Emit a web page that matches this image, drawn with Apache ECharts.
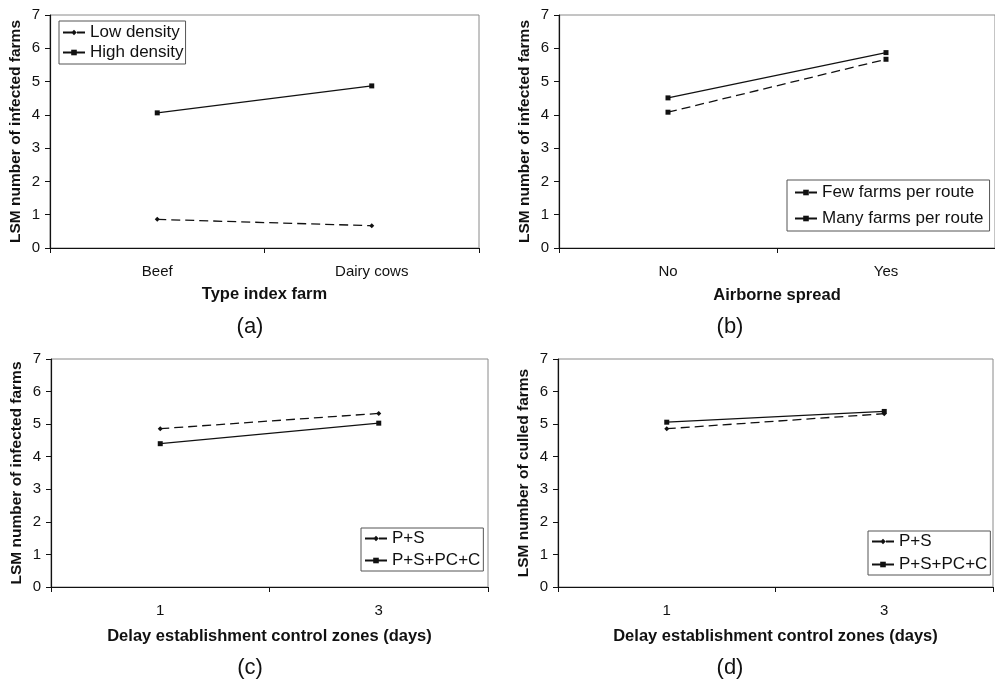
<!DOCTYPE html>
<html>
<head>
<meta charset="utf-8">
<script src="https://cdn.jsdelivr.net/npm/echarts@6/dist/echarts.min.js"></script>
<style>
  html, body { margin: 0; padding: 0; background: #fff; }
  #chart { width: 995px; height: 682px; }
</style>
</head>
<body>
<div id="chart"></div>
<script>
(function () {

  // panel (a)
  var typeCats = ['Beef', 'Dairy cows'];
  var lowDensity = [0.86, 0.67];
  var highDensity = [4.06, 4.87];

  // panel (b)
  var airborneCats = ['No', 'Yes'];
  var fewFarms = [4.08, 5.67];
  var manyFarms = [4.51, 5.87];

  // panels (c) and (d)
  var delayCats = ['1', '3'];
  var infectedPS = [4.86, 5.33];
  var infectedPSPCC = [4.40, 5.03];
  var culledPS = [4.86, 5.32];
  var culledPSPCC = [5.06, 5.39];

  var yMin = 0, yMax = 7, yStep = 1;

  var FONT = 'Arial, "Liberation Sans", sans-serif';
  var INK = '#111';

  var grids = [
    { left: 50, top: 15, width: 429, height: 233 },
    { left: 559, top: 15, width: 438, height: 233 },
    { left: 51, top: 359, width: 437, height: 228 },
    { left: 558, top: 359, width: 435, height: 228 }
  ];
  var xNameGaps = [38, 39, 41, 41];

  var xNames = ['Type index farm', 'Airborne spread',
    'Delay establishment control zones (days)', 'Delay establishment control zones (days)'];
  var yNames = ['LSM number of infected farms', 'LSM number of infected farms',
    'LSM number of infected farms', 'LSM number of culled farms'];
  var xCats = [typeCats, airborneCats, delayCats, delayCats];

  function _extend(a, b) {
    var o = {};
    Object.keys(a).forEach(function (k) { o[k] = a[k]; });
    Object.keys(b).forEach(function (k) { o[k] = b[k]; });
    return o;
  }

  function _grid(g) {
    return _extend(g, {
      show: true,
      borderColor: '#8a8a8a',
      borderWidth: 1,
      backgroundColor: 'transparent'
    });
  }

  function _xAxis(i) {
    return {
      type: 'category',
      gridIndex: i,
      data: xCats[i],
      boundaryGap: true,
      name: xNames[i],
      nameLocation: 'middle',
      nameGap: xNameGaps[i],
      nameTextStyle: { fontFamily: FONT, fontWeight: 'bold', fontSize: 16.5, color: INK },
      axisLine: { lineStyle: { color: INK, width: 1.2 } },
      axisTick: { show: true, length: 5, inside: false, lineStyle: { color: INK } },
      axisLabel: { margin: 16, fontFamily: FONT, fontSize: 15, color: INK },
      splitLine: { show: false }
    };
  }

  function _yAxis(i) {
    return {
      type: 'value',
      gridIndex: i,
      min: yMin,
      max: yMax,
      interval: yStep,
      name: yNames[i],
      nameLocation: 'middle',
      nameGap: 26,
      nameTextStyle: { fontFamily: FONT, fontWeight: 'bold', fontSize: 15.5, color: INK },
      axisLine: { show: true, lineStyle: { color: INK, width: 1.2 } },
      axisTick: { show: true, length: 5, lineStyle: { color: INK } },
      axisLabel: { margin: 10, fontFamily: FONT, fontSize: 15, color: INK },
      splitLine: { show: false }
    };
  }

  function _line(name, data, idx, dashed, symbol) {
    return {
      name: name,
      type: 'line',
      xAxisIndex: idx,
      yAxisIndex: idx,
      data: data,
      symbol: symbol,
      symbolSize: 5,
      showSymbol: true,
      itemStyle: { color: INK },
      lineStyle: { color: INK, width: 1.3, type: dashed ? [9, 5] : 'solid' },
      emphasis: { disabled: true },
      animation: false
    };
  }

  // panel (d) series names carry a trailing space so its legend stays separate from (c)
  function _legend(names, left, top, gap, pad) {
    return {
      data: names,
      orient: 'vertical',
      left: left,
      top: top,
      itemGap: gap,
      itemWidth: 22,
      itemHeight: 7,
      padding: pad,
      borderColor: '#555',
      borderWidth: 1,
      backgroundColor: '#fff',
      selectedMode: false,
      formatter: function (n) { return n.trim(); },
      textStyle: { fontFamily: FONT, fontSize: 17, color: INK }
    };
  }

  function _tag(text, x, y) {
    return {
      type: 'text',
      x: x,
      y: y,
      style: {
        text: text,
        align: 'center',
        verticalAlign: 'middle',
        font: '22px ' + FONT,
        fill: INK
      }
    };
  }

  var chart = echarts.init(document.getElementById('chart'), null, { renderer: 'canvas' });

  var opt = {
    backgroundColor: '#fff',
    animation: false,
    grid: grids.map(_grid),
    xAxis: [0, 1, 2, 3].map(_xAxis),
    yAxis: [0, 1, 2, 3].map(_yAxis),
    legend: [
      _legend(['Low density', 'High density'], 59, 21, 3, [3, 2, 3, 3]),
      _legend(['Few farms per route', 'Many farms per route'], 787, 180, 9, [4, 6, 4, 7]),
      _legend(['P+S', 'P+S+PC+C'], 361, 528, 5, [2, 3, 2, 3]),
      _legend(['P+S ', 'P+S+PC+C '], 868, 531, 6, [2, 3, 2, 3])
    ],
    series: [
      _line('Low density', lowDensity, 0, true, 'diamond'),
      _line('High density', highDensity, 0, false, 'rect'),
      _line('Few farms per route', fewFarms, 1, true, 'rect'),
      _line('Many farms per route', manyFarms, 1, false, 'rect'),
      _line('P+S', infectedPS, 2, true, 'diamond'),
      _line('P+S+PC+C', infectedPSPCC, 2, false, 'rect'),
      _line('P+S ', culledPS, 3, true, 'diamond'),
      _line('P+S+PC+C ', culledPSPCC, 3, false, 'rect')
    ],
    graphic: [
      _tag('(a)', 250, 327),
      _tag('(b)', 730, 327),
      _tag('(c)', 250, 668),
      _tag('(d)', 730, 668)
    ]
  };

  chart.setOption(opt);
})();
</script>
</body>
</html>
